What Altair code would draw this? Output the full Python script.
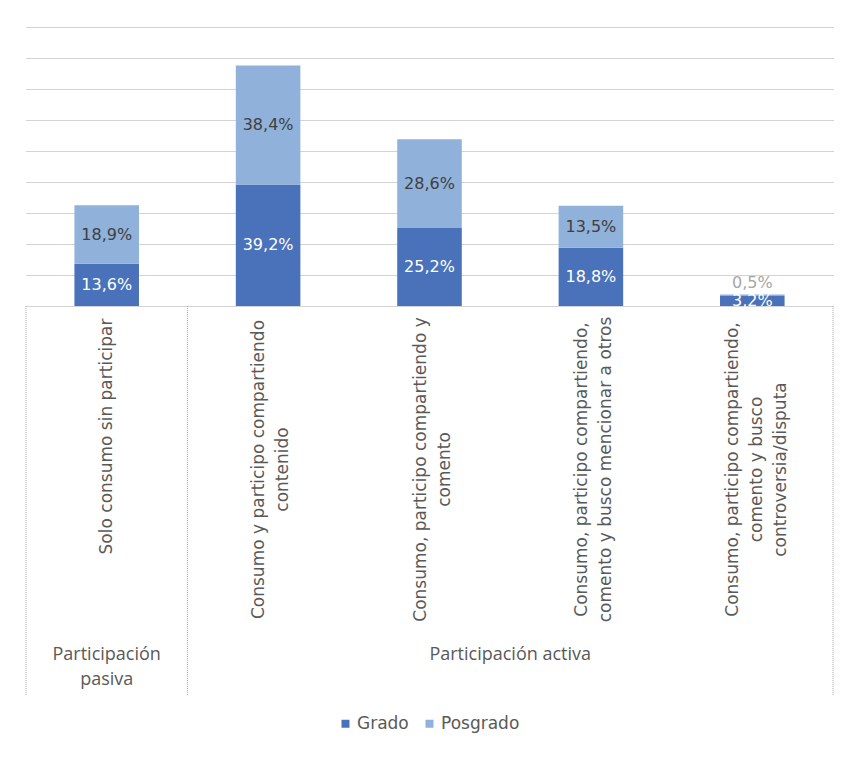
import altair as alt
import pandas as pd

categories = [
    "Solo consumo sin participar",
    "Consumo y participo compartiendo|contenido",
    "Consumo, participo compartiendo y|comento",
    "Consumo, participo compartiendo,|comento y busco mencionar a otros",
    "Consumo, participo compartiendo,|comento y busco|controversia/disputa",
]
series = ["Grado", "Posgrado"]
grado = [13.6, 39.2, 25.2, 18.8, 3.2]
posgrado = [18.9, 38.4, 28.6, 13.5, 0.5]
groups = ["Participación\npasiva", "Participación activa"]

rows = []
for i, c in enumerate(categories):
    rows.append({"category": c, "serie": "Grado", "ord": 0, "value": grado[i]})
    rows.append({"category": c, "serie": "Posgrado", "ord": 1, "value": posgrado[i]})
df = pd.DataFrame(rows)

div_left = pd.DataFrame({"category": categories[:2]})
div_right = pd.DataFrame({"category": categories[-1:]})
grp_pasiva = pd.DataFrame({"category": [categories[0]], "label": [groups[0]]})
grp_activa = pd.DataFrame({"category": [categories[2]], "label": [groups[1]]})

W, H = 807, 279
GRID = "#a8a8a8"
TXT = "#595959"

x_scale = alt.Scale(domain=categories, paddingInner=0, paddingOuter=0)
x_axis = alt.Axis(
    title=None, ticks=False, domain=False, grid=False,
    labelAngle=270, labelAlign="center", labelBaseline="middle",
    labelPadding={
        "condition": {"test": "indexof(datum.value, 'Solo') == 0", "value": 130},
        "value": 163,
    },
    labelOffset={
        "condition": [
            {"test": "length(split(datum.value, '|')) == 3", "value": -19},
            {"test": "length(split(datum.value, '|')) == 2", "value": -9},
        ],
        "value": 0,
    },
    labelLineHeight=24, labelFontSize=17,
    labelFont="DejaVu Sans", labelColor=TXT, labelLimit=500,
    labelExpr="split(datum.label, '|')",
)
y_scale = alt.Scale(domain=[0, 90], nice=False)
y_axis = alt.Axis(
    title=None, labels=False, ticks=False, domain=False,
    values=list(range(0, 91, 10)), grid=True,
    gridColor=GRID, gridDash=[1, 1], gridWidth=1,
)

base = alt.Chart(df).transform_stack(
    stack="value", groupby=["category"], as_=["y0", "y1"],
    sort=[alt.SortField("ord", order="ascending")],
)

bars = base.mark_bar(width=alt.RelativeBandSize(0.4)).encode(
    x=alt.X("category:N", scale=x_scale, axis=x_axis, sort=categories),
    y=alt.Y("y0:Q", scale=y_scale, axis=y_axis),
    y2="y1:Q",
    color=alt.Color(
        "serie:N",
        scale=alt.Scale(domain=series, range=["#4a72ba", "#8fb1da"]),
        legend=alt.Legend(
            title=None, orient="none", direction="horizontal",
            legendX=311, legendY=688,
            symbolType="square", symbolSize=64, symbolStrokeWidth=0,
            labelFontSize=17, labelFont="DejaVu Sans", labelColor=TXT,
            columnPadding=12, labelOffset=3,
        ),
    ),
)

labels = base.transform_calculate(
    ymid="datum.value < 2 && datum.serie == 'Posgrado' ? datum.y1 + 3.6 : (datum.y0 + datum.y1) / 2",
    txt="replace(format(datum.value, '.1f'), '.', ',') + '%'",
    tcol="datum.serie == 'Grado' ? '#ffffff' : (datum.value < 2 ? '#a6a6a6' : '#404040')",
).mark_text(font="DejaVu Sans", fontSize=16, baseline="middle").encode(
    x=alt.X("category:N", scale=x_scale, axis=x_axis, sort=categories),
    y=alt.Y("ymid:Q", scale=y_scale, axis=y_axis),
    text="txt:N",
    color=alt.Color("tcol:N", scale=None, legend=None),
)

rule_style = dict(color=GRID, strokeDash=[1, 1], strokeWidth=1)
dl = alt.Chart(div_left).mark_rule(**rule_style).encode(
    x=alt.X("category:N", scale=x_scale, axis=x_axis, bandPosition=0),
    y=alt.YDatum(0, scale=y_scale, axis=y_axis),
    y2=alt.value(H + 389),
)
dr = alt.Chart(div_right).mark_rule(**rule_style).encode(
    x=alt.X("category:N", scale=x_scale, axis=x_axis, bandPosition=1),
    y=alt.YDatum(0, scale=y_scale, axis=y_axis),
    y2=alt.value(H + 389),
)

gtext = dict(font="Open Sans", fontSize=18, color=TXT, baseline="top",
             align="center", lineBreak="\n", lineHeight=25)
gp = alt.Chart(grp_pasiva).mark_text(**gtext).encode(
    x=alt.X("category:N", scale=x_scale, axis=x_axis, bandPosition=0.5),
    y=alt.value(H + 340),
    text="label:N",
)
ga = alt.Chart(grp_activa).mark_text(**gtext).encode(
    x=alt.X("category:N", scale=x_scale, axis=x_axis, bandPosition=1),
    y=alt.value(H + 340),
    text="label:N",
)

chart = alt.layer(bars, labels, dl, dr, gp, ga).properties(
    width=W, height=H, background="white",
    padding={"left": 17, "top": 19, "right": 0, "bottom": 5},
).configure_view(strokeWidth=0, stroke="transparent")

chart.save("out.html", embed_options={"renderer": "svg", "actions": False})
